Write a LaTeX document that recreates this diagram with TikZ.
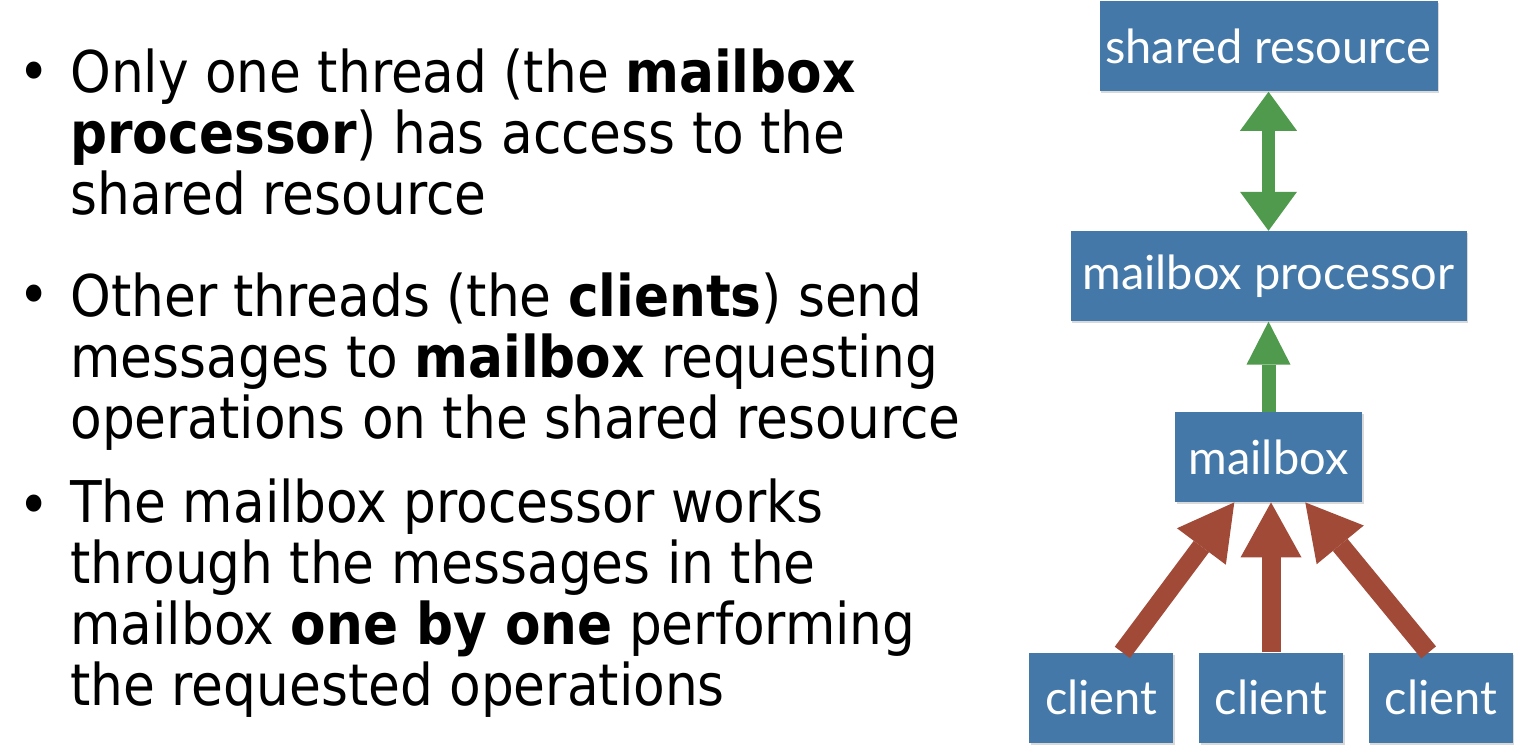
\documentclass[tikz,border=0pt]{standalone}
\usepackage{fontspec}
\setmainfont{DejaVu Sans Condensed}
\newfontfamily\boxfont{Lato}
\usetikzlibrary{arrows.meta,positioning,shadows}

\definecolor{boxblue}{HTML}{4378A8}
\definecolor{arrowgreen}{HTML}{4F9A4C}
\definecolor{arrowred}{HTML}{A14A38}

\begin{document}
\begin{tikzpicture}[x=0.5pt, y=-0.5pt]
        \tikzset{
            block/.style={fill=boxblue, rectangle, minimum height=45pt, inner sep=0pt, text=white, font=\boxfont\fontsize{23.5}{25}\selectfont, drop shadow={shadow xshift=0.8pt, shadow yshift=-1pt, opacity=0.3}},
            bullet text/.style={align=left, anchor=base west, inner sep=0pt, font=\fontsize{28.75}{30.5}\selectfont},
            bullet dot/.style={anchor=base west, inner sep=0pt, font=\fontsize{29.5}{30.5}\selectfont},
            green twin/.style={draw=arrowgreen, line width=6.5pt, {Triangle[width=28.5pt, length=19.5pt, line width=0pt]}-{Triangle[width=28.5pt, length=19.5pt, line width=0pt]}},
            green one/.style={draw=arrowgreen, line width=7pt, -{Triangle[width=22pt, length=21.5pt, line width=0pt]}},
            red one/.style={draw=arrowred, line width=9.5pt, -{Triangle[width=30.5pt, length=27.5pt, line width=0pt]}}
        }
        \useasboundingbox (0,0) rectangle (1530,748);

        % Bullet points (anchored on the last line)
        \node [bullet dot] (dot1) at (18,93) {•};
        \node [bullet text] (item1) at (70,215) {Only one thread (the \textbf{mailbox}\\ \textbf{processor}) has access to the\\ shared resource};
        \node [bullet dot] (dot2) at (18,316) {•};
        \node [bullet text] (item2) at (70,438) {Other threads (the \textbf{clients}) send\\ messages to \textbf{mailbox} requesting\\ operations on the shared resource};
        \node [bullet dot] (dot3) at (18,525) {•};
        \node [bullet text] (item3) at (70,705) {The mailbox processor works\\ through the messages in the\\ mailbox \textbf{one by one} performing\\ the requested operations};

        % Boxes
        \node [block, minimum width=93.5pt] (mbox) at (1268.5,457) {mailbox};
        \node [block, minimum width=198pt, above=45pt of mbox] (proc) {mailbox processor};
        \node [block, minimum width=169pt, above=69.5pt of proc] (res) {shared resource};
        \node [block, minimum width=72pt, below=75pt of mbox, xshift=1.25pt] (client2) {client};
        \node [block, minimum width=72pt, left=12.5pt of client2] (client1) {client};
        \node [block, minimum width=72pt, right=12.5pt of client2] (client3) {client};

        % Arrows
        \draw [green twin] (res.south) -- (proc.north);
        \draw [green one] (mbox.north) -- (proc.south);
        \draw [red one] (client2.north) -- (client2.north |- mbox.south);
        \draw [red one] (client1.65) -- (mbox.-127);
        \draw [red one] (client3.105) -- (mbox.-51);
    \end{tikzpicture}
\end{document}
